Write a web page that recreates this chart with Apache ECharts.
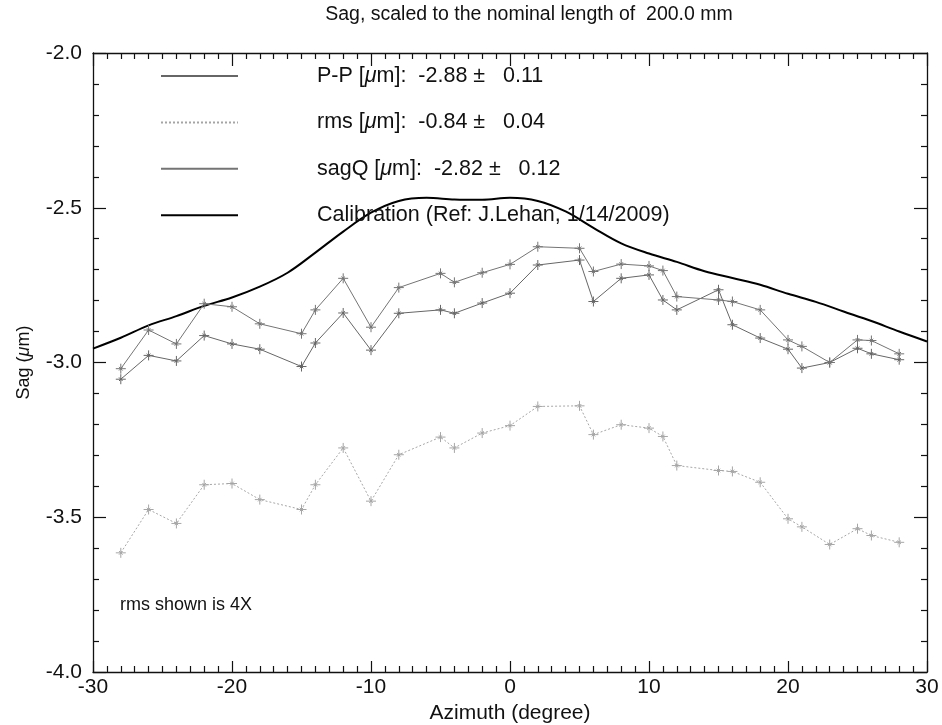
<!DOCTYPE html>
<html>
<head>
<meta charset="utf-8">
<title>Sag</title>
<script src="https://cdn.jsdelivr.net/npm/echarts@6/dist/echarts.min.js"></script>
<style>
  html, body { margin: 0; padding: 0; background: #fff; }
  #chart { width: 942px; height: 725px; }
</style>
</head>
<body>
<div id="chart"></div>
<script>
// azimuth of each measurement (degree)
const azimuth = [-28, -26, -24, -22, -20, -18, -15, -14, -12, -10, -8, -5, -4, -2, 0,
  2, 5, 6, 8, 10, 11, 12, 15, 16, 18, 20, 21, 23, 25, 26, 28];
const ppSag = [-3.054, -2.977, -2.995, -2.913, -2.94, -2.957, -3.013, -2.937, -2.84, -2.96,
  -2.841, -2.83, -2.841, -2.808, -2.776, -2.685, -2.669, -2.803, -2.728, -2.717, -2.798,
  -2.83, -2.765, -2.878, -2.921, -2.957, -3.018, -3.0, -2.954, -2.972, -2.991];
const rmsSag = [-3.615, -3.475, -3.52, -3.395, -3.391, -3.443, -3.475, -3.395, -3.276, -3.448,
  -3.298, -3.241, -3.276, -3.228, -3.204, -3.142, -3.14, -3.233, -3.201, -3.212, -3.239,
  -3.333, -3.349, -3.352, -3.387, -3.505, -3.531, -3.588, -3.537, -3.559, -3.581];
const sagQ = [-3.02, -2.895, -2.94, -2.81, -2.82, -2.875, -2.907, -2.83, -2.728, -2.886,
  -2.758, -2.712, -2.741, -2.71, -2.683, -2.626, -2.631, -2.706, -2.682, -2.688, -2.703,
  -2.787, -2.798, -2.803, -2.83, -2.927, -2.948, -3.0, -2.927, -2.929, -2.972];
// calibration curve (Ref: J.Lehan)
const calibAzimuth = [-30, -28, -26, -24, -22, -20, -18, -16, -14, -12, -10, -8, -6, -4, -2, 0,
  2, 4, 6, 8, 10, 12, 14, 16, 18, 20, 22, 24, 26, 28, 30];
const calibSag = [-2.955, -2.92, -2.88, -2.85, -2.817, -2.79, -2.755, -2.71, -2.645, -2.577,
  -2.516, -2.478, -2.468, -2.473, -2.474, -2.468, -2.478, -2.512, -2.565, -2.615, -2.648,
  -2.675, -2.705, -2.727, -2.749, -2.778, -2.804, -2.835, -2.866, -2.9, -2.932];

const seriesNames = ['P-P', 'rms', 'sagQ', 'Calibration'];
const statMean = ['-2.88', '-0.84', '-2.82'];
const statErr = ['0.11', '0.04', '0.12'];

const FONT = 'Liberation Sans';
const INK = '#111';
const plusMark = 'path://M0,5L10,5M5,0L5,10M3.2,3.2L6.8,6.8M3.2,6.8L6.8,3.2';

function pairs(xs, ys) {
  return xs.map((x, i) => [x, ys[i]]);
}

function legendLabel(name) {
  const i = seriesNames.indexOf(name);
  if (i === 3) return '{n|Calibration (Ref: J.Lehan, 1/14/2009)}';
  return '{n|' + name + ' [}{i|\u03bc}{n|m]:  ' + statMean[i] + ' \u00b1   ' + statErr[i] + '}';
}

function markedLine(name, ys, color, type) {
  return {
    name: name,
    type: 'line',
    data: pairs(azimuth, ys),
    symbol: plusMark,
    symbolSize: 10,
    itemStyle: { color: 'transparent', borderColor: color, borderWidth: 1 },
    lineStyle: { color: color, width: 1, type: type },
    emphasis: { disabled: true },
    z: 3
  };
}

// one side of the plot frame: line + inward ticks
function frameAxis(extra, majorLen, minorSplit) {
  return Object.assign({
    type: 'value',
    axisLine: { onZero: false, lineStyle: { color: INK, width: 1.3 } },
    axisTick: { show: true, inside: true, length: majorLen, lineStyle: { color: INK, width: 1.2 } },
    minorTick: { show: true, splitNumber: minorSplit, length: 6, lineStyle: { color: INK, width: 1.2 } },
    splitLine: { show: false }
  }, extra);
}

let chart = echarts.init(document.getElementById('chart'));

chart.setOption({
  animation: false,
  textStyle: { fontFamily: FONT },
  title: {
    text: 'Sag, scaled to the nominal length of  200.0 mm',
    left: 529, textAlign: 'center', top: 5, padding: 0,
    textStyle: { fontFamily: FONT, fontSize: 19.5, fontWeight: 'normal', color: INK }
  },
  grid: { left: 93, right: 15, top: 53, bottom: 53, outerBoundsMode: 'none' },
  legend: {
    orient: 'vertical',
    left: 160, top: 65, padding: 0,
    itemWidth: 77, itemHeight: 22, itemGap: 24.4,
    itemStyle: { opacity: 0 },
    data: seriesNames,
    formatter: legendLabel,
    selectedMode: false,
    textStyle: {
      padding: [0, 0, 0, 74],
      rich: {
        n: { fontFamily: FONT, fontSize: 21.5, lineHeight: 22, color: INK },
        i: { fontFamily: FONT, fontSize: 21.5, lineHeight: 22, color: INK, fontStyle: 'italic' }
      }
    }
  },
  xAxis: [
    frameAxis({
      min: -30, max: 30, interval: 10,
      name: 'Azimuth (degree)', nameLocation: 'middle', nameGap: 28,
      nameTextStyle: { fontFamily: FONT, fontSize: 21, color: INK },
      axisLabel: { fontFamily: FONT, fontSize: 21, color: INK, margin: 5 }
    }, 11, 10),
    frameAxis({
      min: -30, max: 30, interval: 10, position: 'top',
      axisLabel: { show: false }
    }, 13, 10)
  ],
  yAxis: [
    frameAxis({
      min: -4, max: -2, interval: 0.5,
      name: 'Sag ({i|\u03bc}m)', nameLocation: 'middle', nameGap: 60,
      nameTextStyle: {
        fontFamily: FONT, fontSize: 18, color: INK,
        rich: { i: { fontFamily: FONT, fontSize: 18, color: INK, fontStyle: 'italic' } }
      },
      axisLabel: {
        fontFamily: FONT, fontSize: 21, color: INK, margin: 11,
        formatter: v => v.toFixed(1)
      }
    }, 13, 5),
    frameAxis({
      min: -4, max: -2, interval: 0.5, position: 'right',
      axisLabel: { show: false }
    }, 13, 5)
  ],
  graphic: [{
    type: 'text', left: 120, top: 596,
    style: { text: 'rms shown is 4X', fontFamily: FONT, fontSize: 18, fill: INK }
  }],
  series: [
    markedLine('P-P', ppSag, '#666', 'solid'),
    markedLine('rms', rmsSag, '#a6a6a6', [2, 2]),
    markedLine('sagQ', sagQ, '#747474', 'solid'),
    {
      name: 'Calibration',
      type: 'line',
      data: pairs(calibAzimuth, calibSag),
      symbol: 'none',
      smooth: 0.35,
      lineStyle: { color: '#000', width: 2 },
      emphasis: { disabled: true },
      z: 2
    }
  ]
});
</script>
</body>
</html>
